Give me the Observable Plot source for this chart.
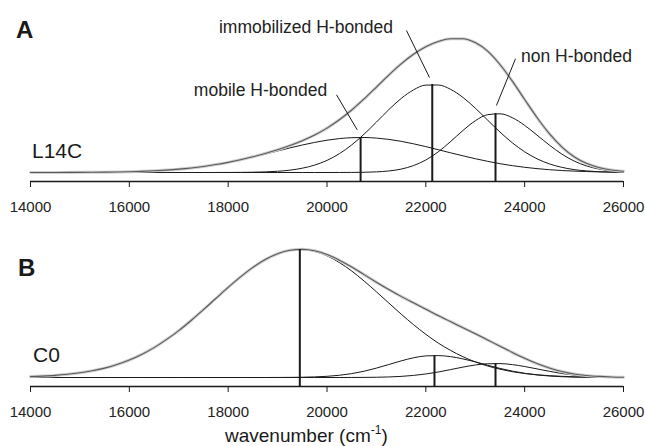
<!DOCTYPE html>
<html>
<head>
<meta charset="utf-8">
<script src="https://cdn.jsdelivr.net/npm/d3@7"></script>
<script src="https://cdn.jsdelivr.net/npm/@observablehq/plot@0.6"></script>
<style>
  body { margin: 0; background: #fff; }
  #wrap { position: relative; width: 645px; height: 446px; font-family: "Liberation Sans", Arial, sans-serif; }
  #wrap > div > svg { display: block; }
  #overlay { position: absolute; left: 0; top: 0; pointer-events: none; }
</style>
</head>
<body>
<div id="wrap">
  <div id="panelA"></div>
  <div id="panelB"></div>
  <svg id="overlay" width="645" height="446" font-family="Liberation Sans, Arial, sans-serif" fill="#1a1a1a">
    <text x="16" y="38" font-size="24" font-weight="bold">A</text>
    <text x="32" y="158" font-size="21">L14C</text>
    <text x="18" y="276" font-size="24" font-weight="bold">B</text>
    <text x="33" y="362" font-size="21">C0</text>
    <text x="225" y="442" font-size="19">wavenumber (cm<tspan dy="-8" font-size="12">-1</tspan><tspan dy="8">)</tspan></text>
  </svg>
</div>
<script>
// ---------- data (intensity in arbitrary units) ----------
const wavenumber = [14000,14250,14500,14750,15000,15250,15500,15750,16000,16250,16500,16750,17000,17250,17500,17750,18000,18250,18500,18750,19000,19250,19500,19750,20000,20250,20500,20750,21000,21250,21500,21750,22000,22250,22500,22750,23000,23250,23500,23750,24000,24250,24500,24750,25000,25250,25500,25750,26000];

// Panel A (L14C)
const mobileA = [0.02,0.03,0.05,0.08,0.13,0.21,0.34,0.52,0.79,1.17,1.7,2.42,3.36,4.57,6.08,7.92,10.1,12.6,15.4,18.4,21.5,24.6,27.5,30.1,32.3,33.9,34.8,35.0,34.4,33.1,31.2,28.7,25.9,22.8,19.7,16.7,13.8,11.2,8.8,6.85,5.2,3.86,2.8,1.99,1.39,0.94,0.63,0.41,0.26];
const immobilizedA = [0,0,0,0,0,0,0,0,0,0,0,0,0,0,0,0.02,0.05,0.12,0.28,0.6,1.22,2.35,4.3,7.4,12.1,18.8,27.6,38.3,50.4,62.8,74.0,82.6,87.4,87.5,83.2,75.1,64.4,52.4,40.5,29.7,20.7,13.7,8.6,5.2,2.9,1.6,0.8,0.4,0.2];
const nonBondedA = [0,0,0,0,0,0,0,0,0,0,0,0,0,0,0,0,0,0,0,0,0,0,0,0,0,0.02,0.08,0.23,0.63,1.54,3.4,6.9,12.5,20.6,30.9,42.0,51.7,57.8,58.7,54.8,47.1,37.4,27.4,18.5,11.5,6.6,3.5,1.7,0.8];
const spectrumA = [0.02,0.03,0.05,0.08,0.13,0.21,0.34,0.52,0.79,1.17,1.7,2.42,3.36,4.57,6.08,7.94,10.15,12.72,15.68,19.0,22.72,26.95,31.8,37.5,44.4,52.72,62.48,73.53,85.43,97.44,108.6,118.2,125.8,130.9,133.8,133.8,129.9,121.4,108.0,91.35,73.0,54.96,38.8,25.69,15.79,9.14,4.93,2.51,1.26];
const peakPositionsA = [20680, 22130, 23410];
const peakHeightsA = [35, 88, 59];

// Panel B (C0)
const mobileB = [0.9,1.4,2.1,3.2,4.7,6.7,9.4,13.0,17.5,23.1,29.9,37.9,46.9,57.0,67.8,79.0,90.1,100.6,110.1,117.9,123.7,127.1,127.9,126.1,121.7,115.0,106.5,96.5,85.7,74.5,63.4,52.9,43.2,34.5,27.1,20.8,15.6,11.5,8.3,5.8,4.0,2.7,1.8,1.2,0.7,0.5,0.3,0.2,0.1];
const immobilizedB = [0,0,0,0,0,0,0,0,0,0,0,0,0,0,0,0,0,0,0,0,0.04,0.11,0.27,0.58,1.19,2.23,3.89,6.28,9.38,12.98,16.6,19.7,21.6,21.9,20.9,18.6,15.7,12.3,9.1,6.4,4.2,2.6,1.5,0.8,0.4,0.2,0.1,0,0];
const nonBondedB = [0,0,0,0,0,0,0,0,0,0,0,0,0,0,0,0,0,0,0,0,0,0,0,0,0,0,0.04,0.1,0.25,0.55,1.12,2.08,3.54,5.5,7.9,10.4,12.5,13.75,13.9,12.9,11.0,8.6,6.2,4.0,2.4,1.3,0.7,0.3,0.1];
const spectrumB = [0.9,1.4,2.1,3.2,4.7,6.7,9.4,13.0,17.5,23.1,29.9,37.9,46.9,57.0,67.8,79.0,90.1,100.6,110.1,117.9,123.74,127.21,128.17,126.68,122.89,117.23,110.43,102.88,95.33,88.03,81.12,74.68,68.34,61.9,55.9,49.8,43.8,37.55,31.3,25.1,19.2,13.9,9.5,6.0,3.5,2.0,1.1,0.5,0.2];
const peakPositionsB = [19450, 22175, 23410];
const peakHeightsB = [128, 22, 14];

const xTicks = [14000, 16000, 18000, 20000, 22000, 24000, 26000];

// band annotations in panel A (label, label anchor, leader line ends)
const bandLabels = ["immobilized H-bonded", "mobile H-bonded", "non H-bonded"];
const labelAnchors = [[19575, 145.6], [18654, 82.6], [25048, 116.6]];
const leaderLines = [[21608, 142, 22074, 95], [20192, 77.7, 20611, 42.7], [23814, 113.7, 23429, 67]];

// ---------- drawing ----------
const FONT = "Liberation Sans, Arial, sans-serif";
const INK = "#1a1a1a";

function series(values) { return wavenumber.map((w, i) => ({w, v: values[i]})); }

function panel(opts) {
  const yMin = opts.yDomain[0];
  const peaks = opts.peaks.map((p, i) => ({w: p, h: opts.heights[i]}));
  const marks = [
    Plot.ruleY([yMin], {stroke: INK, strokeWidth: 1.5}),
    Plot.axisX(xTicks, {tickSize: 6, tickPadding: 14, fontSize: 15, stroke: INK, fill: "#222", tickFormat: d3.format("d"), label: null}),
    ...opts.components.map(c => Plot.line(series(c), {x: "w", y: "v", curve: "monotone-x", stroke: INK, strokeWidth: 1})),
    Plot.line(series(opts.spectrum), {x: "w", y: "v", curve: "monotone-x", stroke: "#cfcfcf", strokeWidth: 3}),
    Plot.line(series(opts.spectrum), {x: "w", y: "v", curve: "monotone-x", stroke: "#5a5a5a", strokeWidth: 1.1}),
    Plot.ruleX(peaks, {x: "w", y1: yMin, y2: "h", stroke: INK, strokeWidth: 2})
  ];
  if (opts.annotate) {
    const labels = bandLabels.map((t, i) => ({t, w: labelAnchors[i][0], v: labelAnchors[i][1]}));
    const leaders = leaderLines.map(l => ({x1: l[0], y1: l[1], x2: l[2], y2: l[3]}));
    marks.push(Plot.link(leaders, {x1: "x1", y1: "y1", x2: "x2", y2: "y2", stroke: INK, strokeWidth: 1}));
    marks.push(Plot.text(labels, {x: "w", y: "v", text: "t", fontSize: 17.5, fill: "#222"}));
  }
  return Plot.plot({
    width: 645,
    height: opts.height,
    marginLeft: 30,
    marginRight: 22,
    marginTop: 0,
    marginBottom: opts.marginBottom,
    style: {fontFamily: FONT, background: "white", overflow: "visible"},
    x: {domain: [14000, 26000]},
    y: {domain: opts.yDomain, axis: null},
    marks
  });
}

document.getElementById("panelA").append(panel({
  height: 220, marginBottom: 39, yDomain: [-9, 172],
  components: [mobileA, immobilizedA, nonBondedA],
  spectrum: spectrumA, peaks: peakPositionsA, heights: peakHeightsA, annotate: true
}));
document.getElementById("panelB").append(panel({
  height: 226, marginBottom: 60, yDomain: [-9, 157],
  components: [mobileB, immobilizedB, nonBondedB],
  spectrum: spectrumB, peaks: peakPositionsB, heights: peakHeightsB, annotate: false
}));
</script>
</body>
</html>
